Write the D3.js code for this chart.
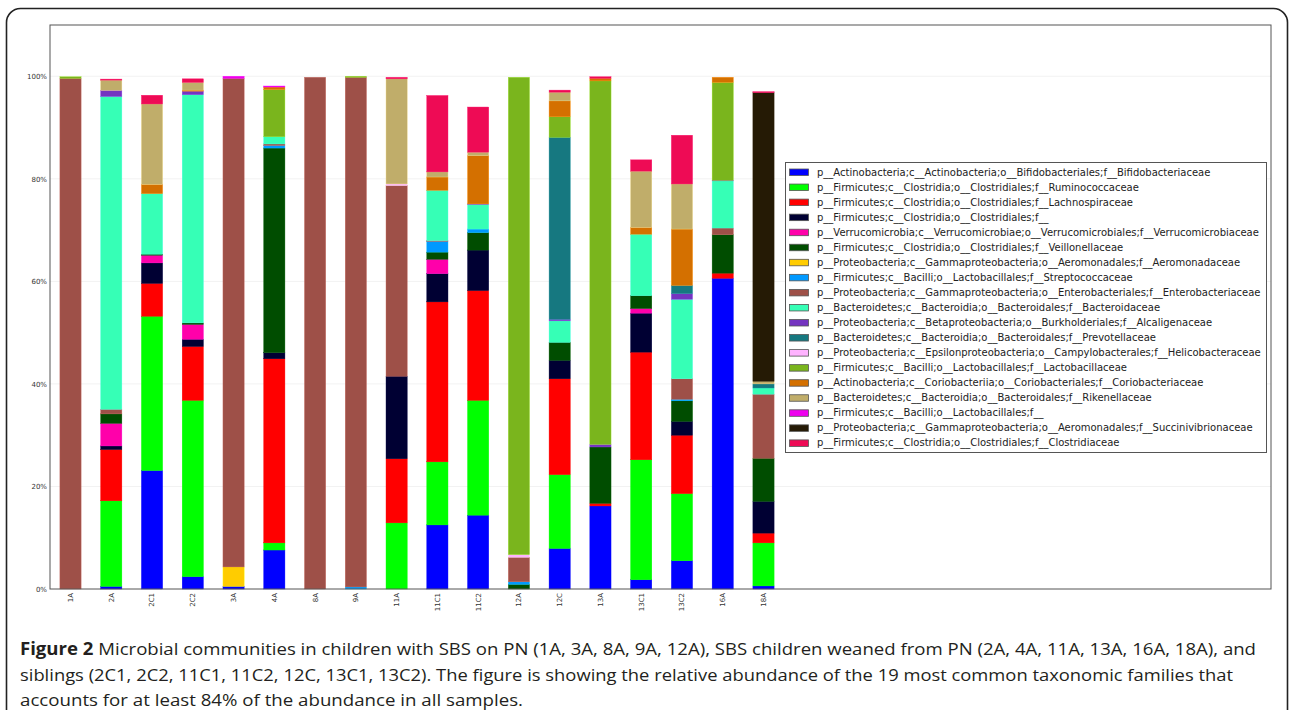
<!DOCTYPE html>
<html>
<head>
<meta charset="utf-8">
<script src="https://cdn.jsdelivr.net/npm/d3@7/dist/d3.min.js"></script>
<style>
  body { margin: 0; background: #fff; }
  svg { display: block; }
</style>
</head>
<body>
<svg id="chart" width="1289" height="710"></svg>
<script>
// Relative abundance per sample, stacked bottom -> top in legend order

const SAMPLES = ['1A','2A','2C1','2C2','3A','4A','8A','9A','11A','11C1','11C2','12A','12C','13A','13C1','13C2','16A','18A'];

const FAMILIES = [
  'p__Actinobacteria;c__Actinobacteria;o__Bifidobacteriales;f__Bifidobacteriaceae',
  'p__Firmicutes;c__Clostridia;o__Clostridiales;f__Ruminococcaceae',
  'p__Firmicutes;c__Clostridia;o__Clostridiales;f__Lachnospiraceae',
  'p__Firmicutes;c__Clostridia;o__Clostridiales;f__',
  'p__Verrucomicrobia;c__Verrucomicrobiae;o__Verrucomicrobiales;f__Verrucomicrobiaceae',
  'p__Firmicutes;c__Clostridia;o__Clostridiales;f__Veillonellaceae',
  'p__Proteobacteria;c__Gammaproteobacteria;o__Aeromonadales;f__Aeromonadaceae',
  'p__Firmicutes;c__Bacilli;o__Lactobacillales;f__Streptococcaceae',
  'p__Proteobacteria;c__Gammaproteobacteria;o__Enterobacteriales;f__Enterobacteriaceae',
  'p__Bacteroidetes;c__Bacteroidia;o__Bacteroidales;f__Bacteroidaceae',
  'p__Proteobacteria;c__Betaproteobacteria;o__Burkholderiales;f__Alcaligenaceae',
  'p__Bacteroidetes;c__Bacteroidia;o__Bacteroidales;f__Prevotellaceae',
  'p__Proteobacteria;c__Epsilonproteobacteria;o__Campylobacterales;f__Helicobacteraceae',
  'p__Firmicutes;c__Bacilli;o__Lactobacillales;f__Lactobacillaceae',
  'p__Actinobacteria;c__Coriobacteriia;o__Coriobacteriales;f__Coriobacteriaceae',
  'p__Bacteroidetes;c__Bacteroidia;o__Bacteroidales;f__Rikenellaceae',
  'p__Firmicutes;c__Bacilli;o__Lactobacillales;f__',
  'p__Proteobacteria;c__Gammaproteobacteria;o__Aeromonadales;f__Succinivibrionaceae',
  'p__Firmicutes;c__Clostridia;o__Clostridiales;f__Clostridiaceae',
];

const COLORS = ['#0000ff','#00ff00','#ff0000','#000033','#ff00aa','#004d00','#ffcc00','#0099ff','#9e5048',
  '#36ffb6','#7434c0','#167880','#ffb3ff','#7ab51d','#d47000','#c0ad6a','#ee00ee','#251a05','#ee0b55'];

// values in %, one entry per sample (same order as SAMPLES)
const bifidobacteriaceae  = [0, 0.5, 23.1, 2.4, 0.5, 7.6, 0, 0, 0, 12.5, 14.4, 0, 7.9, 16.2, 1.8, 5.5, 60.6, 0.6];
const ruminococcaceae     = [0, 16.7, 30.1, 34.4, 0, 1.4, 0, 0, 12.9, 12.3, 22.4, 0, 14.4, 0, 23.4, 13.1, 0, 8.4];
const lachnospiraceae     = [0, 10.0, 6.4, 10.5, 0, 35.9, 0, 0, 12.5, 31.2, 21.4, 0, 18.7, 0.5, 21.0, 11.4, 1.0, 1.9];
const clostridialesNA     = [0, 0.7, 4.0, 1.4, 0, 1.2, 0, 0, 16.1, 5.5, 7.9, 0, 3.6, 0, 7.6, 2.7, 0, 6.2];
const verrucomicrobiaceae = [0, 4.4, 1.5, 2.9, 0, 0, 0, 0, 0, 2.8, 0, 0, 0, 0, 0.9, 0, 0, 0];
const veillonellaceae     = [0, 1.85, 0.2, 0.3, 0, 39.9, 0, 0, 0, 1.4, 3.4, 0.9, 3.5, 11.0, 2.5, 4.0, 7.5, 8.4];
const aeromonadaceae      = [0, 0, 0, 0, 3.8, 0, 0, 0, 0, 0, 0, 0, 0, 0, 0, 0, 0, 0];
const streptococcaceae    = [0, 0, 0, 0, 0, 0.5, 0, 0.4, 0, 2.1, 0.7, 0.5, 0, 0, 0, 0.3, 0, 0];
const enterobacteriaceae  = [99.6, 0.9, 0, 0, 95.3, 0.3, 99.8, 99.4, 37.2, 0.15, 0, 4.8, 0, 0, 0, 4.0, 1.3, 12.5];
const bacteroidaceae      = [0, 61.0, 11.8, 44.5, 0, 1.4, 0, 0, 0, 9.8, 4.8, 0, 4.2, 0, 12.0, 15.5, 9.2, 1.2];
const alcaligenaceae      = [0, 1.2, 0, 0.7, 0, 0, 0, 0, 0, 0, 0.1, 0, 0.3, 0.5, 0, 1.1, 0.1, 0];
const prevotellaceae      = [0, 0, 0, 0, 0, 0, 0, 0, 0, 0, 0, 0, 35.5, 0, 0, 1.6, 0, 0.8];
const helicobacteraceae   = [0, 0, 0, 0, 0, 0, 0, 0, 0.3, 0, 0, 0.5, 0, 0, 0, 0, 0, 0];
const lactobacillaceae    = [0.3, 0, 0, 0, 0, 9.2, 0, 0.2, 0, 0, 0, 93.1, 4.0, 70.9, 0, 0, 19.1, 0];
const coriobacteriaceae   = [0, 0, 1.8, 0.2, 0, 0.5, 0, 0, 0, 2.6, 9.4, 0, 3.1, 0.5, 1.3, 11.0, 1.0, 0];
const rikenellaceae       = [0, 2.0, 15.7, 1.5, 0, 0, 0, 0, 20.5, 1.0, 0.7, 0, 1.7, 0, 11.0, 8.8, 0, 0.5];
const bacilliNA           = [0, 0, 0, 0, 0.4, 0.2, 0, 0, 0, 0, 0, 0, 0, 0, 0, 0, 0, 0];
const succinivibrionaceae = [0, 0, 0, 0, 0, 0, 0, 0, 0, 0, 0, 0, 0, 0, 0, 0, 0, 56.3];
const clostridiaceae      = [0, 0.2, 1.7, 0.7, 0, 0, 0, 0, 0.3, 14.9, 8.8, 0, 0.4, 0.3, 2.2, 9.5, 0, 0.2];

const SERIES = [bifidobacteriaceae, ruminococcaceae, lachnospiraceae, clostridialesNA, verrucomicrobiaceae,
  veillonellaceae, aeromonadaceae, streptococcaceae, enterobacteriaceae, bacteroidaceae, alcaligenaceae,
  prevotellaceae, helicobacteraceae, lactobacillaceae, coriobacteriaceae, rikenellaceae, bacilliNA,
  succinivibrionaceae, clostridiaceae];

const Y_TICKS = [0, 20, 40, 60, 80, 100];

const CAPTION = [
  ['Figure 2', ' Microbial communities in children with SBS on PN (1A, 3A, 8A, 9A, 12A), SBS children weaned from PN (2A, 4A, 11A, 13A, 16A, 18A), and'],
  ['', 'siblings (2C1, 2C2, 11C1, 11C2, 12C, 13C1, 13C2). The figure is showing the relative abundance of the 19 most common taxonomic families that'],
  ['', 'accounts for at least 84% of the abundance in all samples.'],
];
const CAPTION_WIDTHS = [1236, 1213, 503];

// ---- layout
const svg = d3.select('#chart');
const plot = { left: 50, top: 25, right: 1271, bottom: 589 };

// outer rounded border of the figure panel
svg.append('rect')
  .attr('x', 6.5).attr('y', 8.5).attr('width', 1281).attr('height', 730).attr('rx', 14)
  .attr('fill', 'none').attr('stroke', '#222').attr('stroke-width', 1.6);

const x = d3.scaleBand().domain(SAMPLES).range([plot.left, 784]).paddingInner(0.48).paddingOuter(0.243);
const y = d3.scaleLinear().domain([0, 110]).range([plot.bottom, plot.top]);

// grid
svg.append('g').selectAll('line').data(Y_TICKS.slice(1)).join('line')
  .attr('x1', plot.left).attr('x2', plot.right)
  .attr('y1', d => y(d)).attr('y2', d => y(d))
  .attr('stroke', '#f2f2f2').attr('stroke-width', 1);

// stacked bars
const rows = SAMPLES.map((s, i) => {
  const r = { sample: s };
  FAMILIES.forEach((f, k) => { r[f] = SERIES[k][i]; });
  return r;
});
const stacked = d3.stack().keys(FAMILIES)(rows);

svg.append('g').selectAll('g').data(stacked).join('g')
  .attr('fill', (d, k) => COLORS[k])
  .attr('stroke', (d, k) => d3.color(COLORS[k]).brighter(0.6))
  .attr('stroke-width', 0.4)
  .selectAll('rect').data(d => d.filter(p => p[1] - p[0] > 0)).join('rect')
  .attr('x', d => x(d.data.sample))
  .attr('width', x.bandwidth())
  .attr('y', d => y(d[1]))
  .attr('height', d => y(d[0]) - y(d[1]));

// plot frame
svg.append('rect')
  .attr('x', plot.left).attr('y', plot.top)
  .attr('width', plot.right - plot.left).attr('height', plot.bottom - plot.top)
  .attr('fill', 'none').attr('stroke', '#555').attr('stroke-width', 1);

// y axis
const yAxis = svg.append('g').attr('transform', `translate(${plot.left},0)`)
  .call(d3.axisLeft(y).tickValues(Y_TICKS).tickFormat(d => d + '%').tickSize(0).tickPadding(3));
yAxis.select('.domain').remove();
yAxis.selectAll('text').attr('font-family', 'DejaVu Sans, sans-serif').attr('font-size', 7).attr('fill', '#333');

// x axis
const xAxis = svg.append('g').attr('transform', `translate(0,${plot.bottom})`)
  .call(d3.axisBottom(x).tickSize(0).tickPadding(3));
xAxis.select('.domain').remove();
xAxis.selectAll('text')
  .attr('font-family', 'DejaVu Sans, sans-serif').attr('font-size', 7).attr('fill', '#333')
  .attr('transform', 'rotate(-90)').attr('text-anchor', 'end')
  .attr('x', -4).attr('y', 0).attr('dy', '0.35em');

// legend
const legend = svg.append('g').attr('transform', 'translate(785,162)');
legend.append('rect')
  .attr('x', 0.5).attr('y', 0.5).attr('width', 481).attr('height', 290)
  .attr('fill', '#fff').attr('stroke', '#555').attr('stroke-width', 1);
const item = legend.selectAll('g.item').data(FAMILIES).join('g')
  .attr('class', 'item')
  .attr('transform', (d, k) => `translate(0,${10 + k * 15.05})`);
item.append('rect')
  .attr('x', 4.5).attr('y', -3).attr('width', 19).attr('height', 6.5)
  .attr('fill', (d, k) => COLORS[k]).attr('stroke', '#555').attr('stroke-width', 0.8);
item.append('text')
  .attr('x', 32).attr('y', 0).attr('dy', '0.35em')
  .attr('font-family', 'DejaVu Sans, sans-serif').attr('font-size', 10).attr('fill', '#222')
  .text(d => d);

// caption
const cap = svg.append('g').attr('font-family', '"Liberation Sans Narrow", "Open Sans", sans-serif')
  .attr('font-size', 17).attr('fill', '#231f20');
CAPTION.forEach((line, i) => {
  const t = cap.append('text').attr('x', 20).attr('y', 655 + i * 25.5)
    .attr('textLength', CAPTION_WIDTHS[i]).attr('lengthAdjust', 'spacingAndGlyphs');
  if (line[0]) t.append('tspan').attr('font-weight', 'bold').text(line[0]);
  t.append('tspan').text(line[1]);
});
</script>
</body>
</html>
